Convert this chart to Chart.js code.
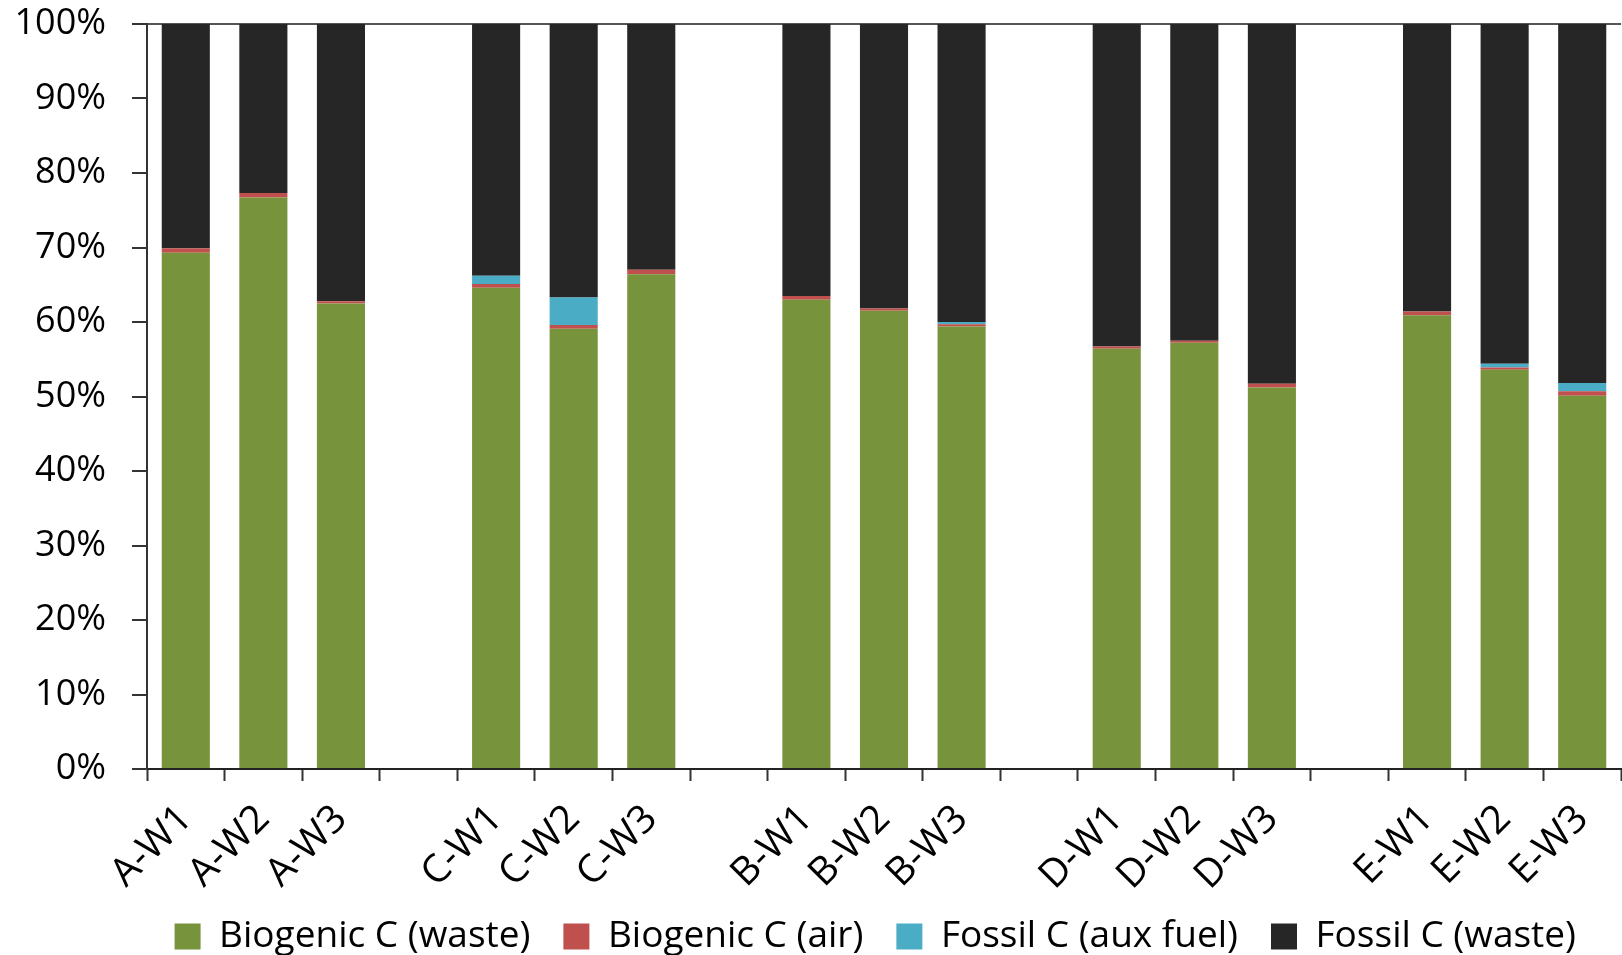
<!DOCTYPE html>
<html>
<head>
<meta charset="utf-8">
<script src="https://cdn.jsdelivr.net/npm/chart.js@4/dist/chart.umd.min.js"></script>
<style>
  html, body { margin: 0; padding: 0; background: #fff; }
  #wrap { width: 1622px; height: 955px; }
</style>
</head>
<body>
<div id="wrap"><canvas id="c" width="1622" height="955"></canvas></div>
<script>
const categories = ['A-W1','A-W2','A-W3','', 'C-W1','C-W2','C-W3','', 'B-W1','B-W2','B-W3','', 'D-W1','D-W2','D-W3','', 'E-W1','E-W2','E-W3'];
const biogenicWaste = [69.3, 76.7, 62.5, null, 64.6, 59.1, 66.4, null, 63.0, 61.5, 59.4, null, 56.4, 57.2, 51.2, null, 60.9, 53.6, 50.1];
const biogenicAir   = [0.6, 0.6, 0.3, null, 0.5, 0.5, 0.6, null, 0.5, 0.3, 0.3, null, 0.3, 0.3, 0.5, null, 0.5, 0.3, 0.6];
const fossilAux     = [0, 0, 0, null, 1.1, 3.7, 0, null, 0, 0, 0.3, null, 0, 0, 0, null, 0, 0.5, 1.1];
const fossilWaste   = [30.1, 22.7, 37.2, null, 33.8, 36.7, 33.0, null, 36.5, 38.2, 40.0, null, 43.3, 42.5, 48.3, null, 38.6, 45.6, 48.2];
const yTicks = [0, 10, 20, 30, 40, 50, 60, 70, 80, 90, 100];
const seriesNames = ['Biogenic C (waste)', 'Biogenic C (air)', 'Fossil C (aux fuel)', 'Fossil C (waste)'];
const seriesColors = ['#77933C', '#C0504D', '#4BACC6', '#262626'];

const FONT = 'Open Sans';
const seriesData = [biogenicWaste, biogenicAir, fossilAux, fossilWaste];

// Let the rotated x labels run a bit below the axis box (no clipping), and nudge the legend.
const layoutTweak = {
  id: 'layoutTweak',
  afterLayout(chart) {
    chart.scales.x.bottom += 30;
    if (chart.legend) { chart.legend.left -= 12; chart.legend.right -= 12; }
  }
};

new Chart(document.getElementById('c'), {
  type: 'bar',
  data: {
    labels: categories,
    datasets: seriesNames.map((name, i) => ({
      label: name,
      data: seriesData[i],
      backgroundColor: seriesColors[i],
      borderWidth: 0,
      categoryPercentage: 1.0,
      barPercentage: 0.62
    }))
  },
  plugins: [layoutTweak],
  options: {
    responsive: false,
    animation: false,
    devicePixelRatio: 1,
    layout: { padding: { top: 24, right: 1, left: 0, bottom: -10 } },
    plugins: {
      tooltip: { enabled: false },
      legend: {
        position: 'bottom',
        align: 'end',
        labels: {
          boxWidth: 26,
          boxHeight: 26,
          padding: 33,
          color: '#000',
          font: { family: FONT, size: 37 }
        }
      }
    },
    scales: {
      x: {
        stacked: true,
        afterFit: (s) => { s.height = 116; s.paddingLeft = 0; s.paddingRight = 0; },
        grid: {
          offset: true,
          drawOnChartArea: false,
          drawTicks: true,
          tickLength: 12,
          tickColor: '#333',
          tickWidth: 2
        },
        border: { color: '#222', width: 2 },
        ticks: {
          autoSkip: false,
          maxRotation: 45,
          minRotation: 45,
          padding: 15,
          color: '#000',
          font: { family: FONT, size: 39 }
        }
      },
      y: {
        stacked: true,
        min: 0,
        max: 100,
        afterFit: (s) => { s.width = 147; s.paddingTop = 0; s.paddingBottom = 0; },
        afterBuildTicks: (s) => { s.ticks = yTicks.map(v => ({ value: v })); },
        grid: {
          drawOnChartArea: true,
          color: (ctx) => (ctx.tick && ctx.tick.value === 100) ? '#555' : 'rgba(0,0,0,0)',
          lineWidth: 2,
          drawTicks: true,
          tickLength: 15,
          tickColor: '#333',
          tickWidth: 2
        },
        border: { color: '#333', width: 2 },
        ticks: {
          padding: 26,
          color: '#000',
          font: { family: FONT, size: 36 },
          callback: (v) => v + '%'
        }
      }
    }
  }
});
</script>
</body>
</html>
